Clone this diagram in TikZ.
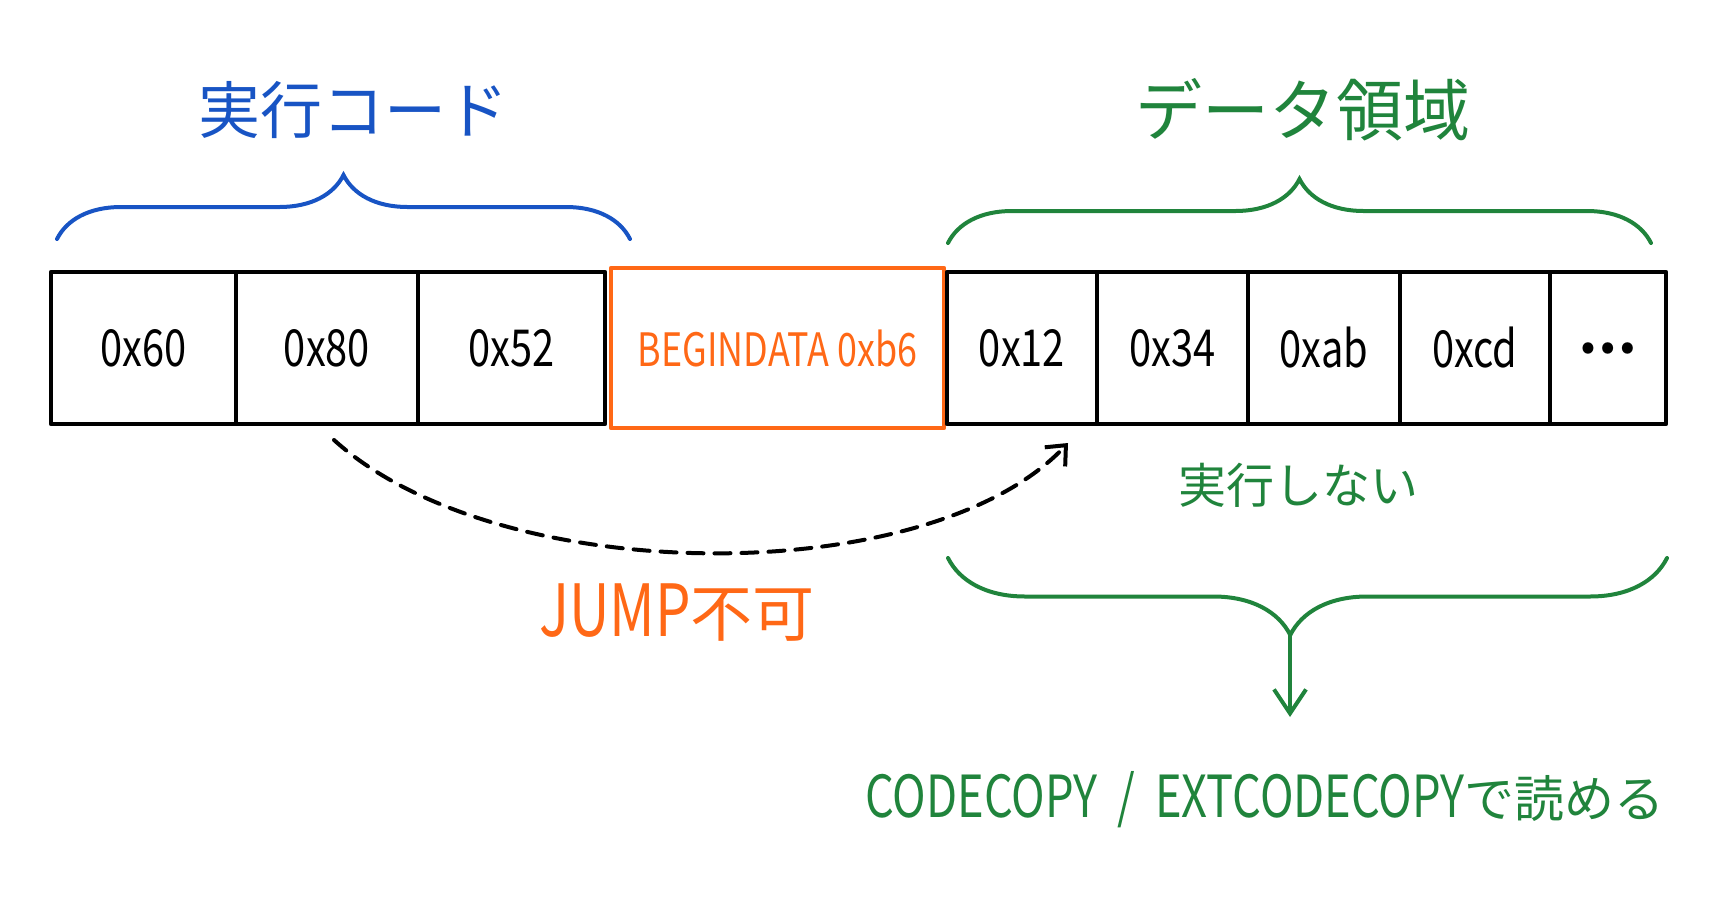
\documentclass[tikz,border=0pt]{standalone}
\usepackage{fontspec}
\setmainfont{Noto Sans CJK JP}
\newfontfamily\latin[FakeStretch=0.78]{Noto Sans CJK JP}
\usetikzlibrary{positioning,arrows.meta,decorations.pathreplacing}
\definecolor{codeblue}{RGB}{24,84,196}
\definecolor{datagreen}{RGB}{32,132,60}
\definecolor{jumporange}{RGB}{255,104,22}

\begin{document}
\begin{tikzpicture}[x=1pt, y=-1pt]
    % --- 样式定义 ---
    \tikzstyle{cell}=[draw, line width=4.2pt, line join=round, outer sep=0pt, inner sep=0pt,
        minimum height=152, font=\latin\fontsize{51}{56}\selectfont]
    \tikzstyle{title}=[font=\fontsize{62}{70}\selectfont]
    \tikzstyle{brace}=[decorate, decoration={brace, amplitude=64}, line width=4pt, line cap=round]
    \tikzstyle{jumparrow}=[-{Straight Barb[length=16pt, width=28pt, line width=4pt]},
        line width=4pt, dash pattern=on 16pt off 11pt, line cap=round]
    \tikzstyle{readarrow}=[-{Straight Barb[length=24pt, width=32pt, line width=4pt]},
        line width=4pt, datagreen]

    \useasboundingbox (0,0) rectangle (1717,916);

    % ====== 实行代码 (Code Section) ======
    \node[cell, minimum width=185, anchor=west] (c60) at (51,348) {0x60};
    \node[cell, minimum width=182, right=0pt of c60] (c80) {0x80};
    \node[cell, minimum width=187, right=0pt of c80] (c52) {0x52};

    % BEGINDATA
    \node[cell, draw=jumporange, text=jumporange, minimum width=333, minimum height=160,
        font=\latin\fontsize{46}{52}\selectfont, right=6pt of c52] (begin) {BEGINDATA 0xb6};

    % ====== 数据区域 (Data Section) ======
    \node[cell, minimum width=150, right=3pt of begin] (c12) {0x12};
    \node[cell, minimum width=151, right=0pt of c12] (c34) {0x34};
    \node[cell, minimum width=152, right=0pt of c34] (cab) {0xab};
    \node[cell, minimum width=150, right=0pt of cab] (ccd) {0xcd};
    \node[cell, minimum width=116, right=0pt of ccd, font=\bfseries\fontsize{52}{56}\selectfont] (cdots) {…};

    % 标题
    \node[title, text=codeblue] (codetitle) at (353,110) {実行コード};
    \node[title, text=datagreen, font=\fontsize{67}{72}\selectfont] (datatitle) at (1303,110) {データ領域};

    % 括号
    \draw[brace, codeblue] (57,239) -- (630,239);
    \draw[brace, datagreen] (948,243) -- (1651,243);

    % 跳转不可 (dashed jump)
    \coordinate (jumpfrom) at (334,440);
    \coordinate (jumpto) at (1068,443);
    \draw[jumparrow] (jumpfrom) .. controls (500,590) and (930,590) .. (jumpto);
    \node[text=jumporange, font=\fontsize{62}{70}\selectfont] (nojump) at (677,613)
        {{\latin\fontsize{72}{80}\selectfont JUMP}不可};

    % 不执行 + 读取
    \node[text=datagreen, font=\fontsize{48}{56}\selectfont] (noexec) at (1298,485) {実行しない};
    \draw[brace, datagreen, decoration={brace, mirror, amplitude=77, aspect=0.476}] (948,558) -- (1667,558);
    \coordinate (readtip) at (1290,635);
    \coordinate (readend) at (1290,717);
    \draw[readarrow] (readtip) -- (readend);
    \node[text=datagreen, font=\fontsize{50}{58}\selectfont] (readable) at (1265,800)
        {{\latin\fontsize{58}{70}\selectfont CODECOPY\hspace{20pt}/\hspace{20pt}EXTCODECOPY}で読める};

\end{tikzpicture}
\end{document}
